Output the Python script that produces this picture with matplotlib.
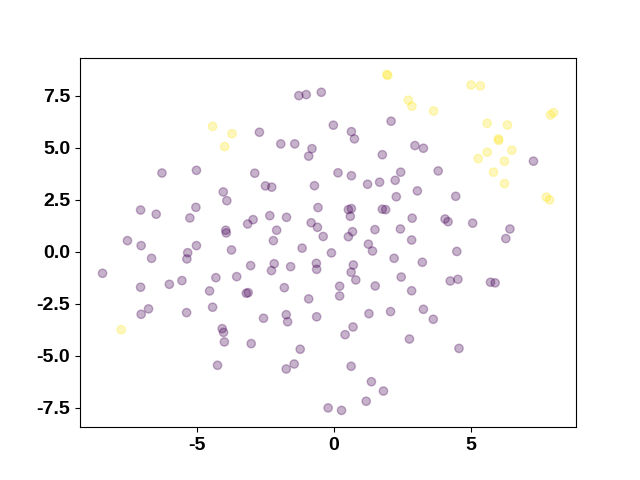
import matplotlib
matplotlib.use('Agg')
import matplotlib.pyplot as plt
import numpy as np

plt.rcParams['font.family'] = ['Liberation Sans', 'DejaVu Sans']
plt.rcParams['font.weight'] = 'bold'
plt.rcParams['font.size'] = 14
plt.rcParams['axes.unicode_minus'] = False

# classe 1 (jaune)
x_yellow = [-4.43, -3.72, -3.99, -7.77, 1.93, 1.97, 2.72, 2.85, 3.64, 5.01, 5.35,
            7.91, 8.02, 5.60, 6.34, 6.01, 6.02, 5.60, 6.50, 5.27, 6.23, 5.83, 6.23,
            7.76, 7.88]
y_yellow = [6.02, 5.67, 5.05, -3.75, 8.52, 8.47, 7.28, 6.99, 6.76, 8.01, 7.97,
            6.57, 6.68, 6.17, 6.09, 5.42, 5.35, 4.78, 4.88, 4.47, 4.35, 3.82, 3.27,
            2.62, 2.49]

# classe 0 (violet)
x_purple = [
    -6.28, -5.02, -7.06, -6.49, -5.04, -5.26, -7.54, -7.04, -5.02, -5.34, -6.66,
    -5.37, -8.45, -7.06, -6.01, -5.55, -4.54, -6.77, -7.04, -5.38, -4.43,
    -1.28, -1.01, -0.46, -0.02, -2.72, -1.94, -1.43, -0.80, -0.92, -2.89, 0.15,
    -2.50, -2.27, -0.71, -4.04, -3.91, -0.58, -2.34, -2.95, -3.15, -1.73, -0.83,
    -0.60, -0.39, -2.09, -3.95, -3.93, -2.21, -3.74, -1.16, -0.09,
    -3.04, -2.18, -2.28, -1.58, -0.64, -0.63, -4.31, -3.55, -3.20, -3.13, -1.81,
    -0.92, 0.21, 0.21, -2.57, -1.74, -1.69, -0.63, -4.08, -4.03, -4.00, -3.02,
    -1.23, -4.25, -1.74, -1.45, -0.21,
    2.09, 0.64, 0.75, 2.96, 3.27, 1.77, 0.64, 2.44, 2.24, 3.81, 1.23, 1.67,
    3.05, 2.28, 4.45, 0.53, 0.64, 0.60, 1.77, 1.89, 2.86, 4.06, 4.17, 0.68,
    0.53, 1.50, 2.43, 2.84, 1.26, 1.41, 4.49,
    2.20, 3.23, 0.71, 0.63, 0.80, 1.51, 2.46, 2.84, 4.25, 4.53, 1.28, 2.07,
    3.27, 3.63, 0.70, 0.41, 2.76, 4.57, 0.63, 1.37, 1.81, 1.18, 0.28,
    7.29, 5.07, 6.43, 6.28, 5.72, 5.89]
y_purple = [
    3.78, 3.91, 2.00, 1.80, 2.13, 1.62, 0.53, 0.29, 0.29, -0.05, -0.32,
    -0.35, -1.04, -1.71, -1.57, -1.39, -1.89, -2.75, -3.01, -2.93, -2.67,
    7.50, 7.55, 7.66, 6.08, 5.74, 5.18, 5.18, 4.95, 4.59, 3.77, 3.79,
    3.16, 3.10, 3.17, 2.87, 2.45, 2.12, 1.73, 1.54, 1.33, 1.65, 1.39,
    1.17, 0.73, 1.03, 1.03, 0.90, 0.53, 0.08, 0.17, -0.06,
    -0.67, -0.58, -0.91, -0.72, -0.56, -0.85, -1.25, -1.20, -2.00, -1.97, -1.73,
    -2.27, -1.66, -2.13, -3.20, -3.03, -3.37, -3.13, -3.70, -3.88, -4.34, -4.42,
    -4.69, -5.46, -5.64, -5.40, -7.51,
    6.27, 5.77, 5.42, 5.10, 4.97, 4.66, 3.65, 3.82, 3.43, 3.88, 3.24, 3.34,
    2.92, 2.64, 2.66, 2.02, 2.07, 1.70, 2.04, 2.02, 1.61, 1.57, 1.44, 0.96,
    0.72, 1.06, 1.09, 0.56, 0.36, 0.03, 0.01,
    -0.32, -0.51, -0.64, -0.99, -1.36, -1.65, -1.22, -1.88, -1.41, -1.33, -2.98, -2.88,
    -2.77, -3.25, -3.62, -3.99, -4.20, -4.65, -5.51, -6.25, -6.70, -7.19, -7.63,
    4.35, 1.37, 1.09, 0.63, -1.47, -1.50]

x_ticks = [-5, 0, 5]
y_ticks = [-7.5, -5.0, -2.5, 0.0, 2.5, 5.0, 7.5]

x = np.array(x_purple + x_yellow)
y = np.array(y_purple + y_yellow)
labels = np.array([0] * len(x_purple) + [1] * len(x_yellow))

fig, ax = plt.subplots(figsize=(6.4, 4.8), dpi=100)
ax.scatter(x, y, c=labels, cmap='viridis', alpha=0.3)
ax.set_xticks(x_ticks)
ax.set_yticks(y_ticks)

plt.savefig('out.png', dpi=100)
